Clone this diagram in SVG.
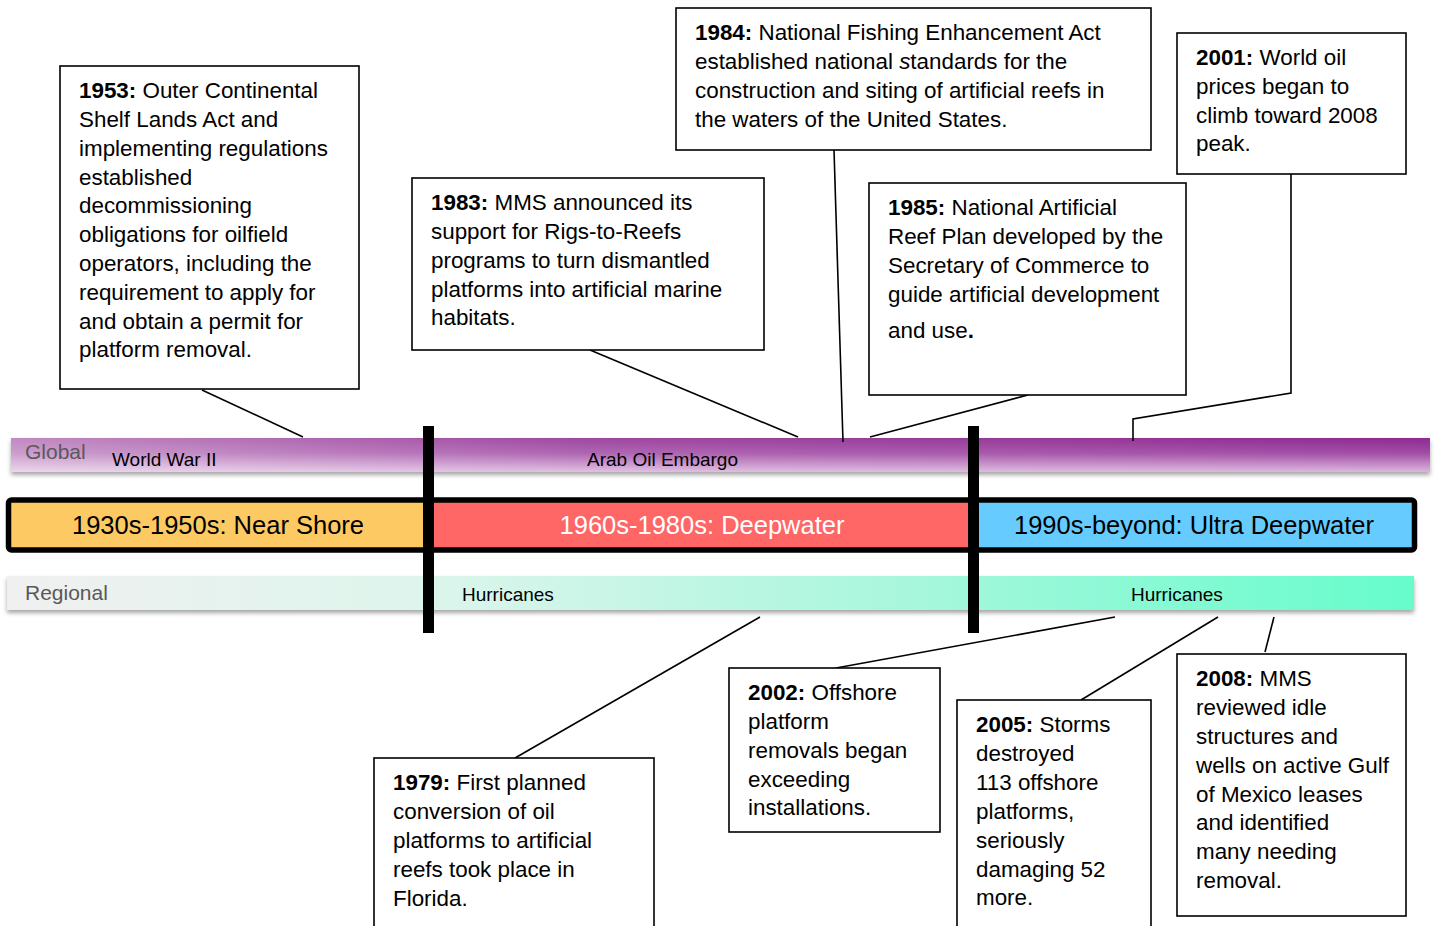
<svg xmlns="http://www.w3.org/2000/svg" width="1436" height="926" viewBox="0 0 1436 926">
<defs>
<style>
.box{fill:#fff;stroke:#000;stroke-width:1.6}
.t{font-family:"Liberation Sans",Arial,sans-serif;font-size:22.4px;fill:#000}
.b{font-weight:bold}
.band{font-family:"Liberation Sans",Arial,sans-serif;font-size:19px;fill:#000}
.side{font-family:"Liberation Sans",Arial,sans-serif;font-size:21px;fill:#595959}
.era{font-family:"Liberation Sans",Arial,sans-serif;font-size:25.5px;text-anchor:middle}
.conn line,.conn polyline{stroke:#000;stroke-width:1.6;fill:none}
</style>
<linearGradient id="gV" x1="0" y1="0" x2="0" y2="1">
<stop offset="0" stop-color="#8e2a90"/>
<stop offset="0.45" stop-color="#a24ea6"/>
<stop offset="1" stop-color="#dcb6de"/>
</linearGradient>
<linearGradient id="gH" x1="0" y1="0" x2="1" y2="0">
<stop offset="0" stop-color="#fff" stop-opacity="0.45"/>
<stop offset="0.4" stop-color="#fff" stop-opacity="0.14"/>
<stop offset="1" stop-color="#fff" stop-opacity="0"/>
</linearGradient>
<linearGradient id="gR" x1="0" y1="0" x2="1" y2="0">
<stop offset="0" stop-color="#f0f0f0"/>
<stop offset="0.3" stop-color="#ddf5ec"/>
<stop offset="0.65" stop-color="#a6f7dc"/>
<stop offset="1" stop-color="#66fccb"/>
</linearGradient>
<filter id="sh" x="-5%" y="-30%" width="110%" height="180%">
<feDropShadow dx="0" dy="3" stdDeviation="2" flood-color="#000" flood-opacity="0.35"/>
</filter>
</defs>

<g id="global-band">
<rect x="11" y="438" width="1419" height="34" fill="url(#gV)" filter="url(#sh)"/>
<rect x="11" y="438" width="1419" height="34" fill="url(#gH)"/>
<text class="side" x="25" y="459">Global</text>
<text class="band" x="112" y="466">World War II</text>
<text class="band" x="587" y="466">Arab Oil Embargo</text>
</g>

<g id="regional-band">
<rect x="7" y="576" width="1407" height="34" fill="url(#gR)" filter="url(#sh)"/>
<text class="side" x="25" y="600">Regional</text>
<text class="band" x="462" y="601">Hurricanes</text>
<text class="band" x="1131" y="601">Hurricanes</text>
</g>

<g id="era-bar">
<rect x="9" y="500" width="420" height="50" fill="#fdc962"/>
<rect x="429" y="500" width="544" height="50" fill="#ff6666"/>
<rect x="973" y="500" width="441" height="50" fill="#66ccff"/>
<rect x="8.5" y="500" width="1406" height="50" rx="3" fill="none" stroke="#000" stroke-width="5.5"/>
<text class="era" x="218" y="534" fill="#000">1930s-1950s: Near Shore</text>
<text class="era" x="702" y="534" fill="#fff">1960s-1980s: Deepwater</text>
<text class="era" x="1194" y="534" fill="#000">1990s-beyond: Ultra Deepwater</text>
</g>

<g id="dividers">
<rect x="423" y="426" width="11" height="207" fill="#000"/>
<rect x="968" y="426" width="11" height="207" fill="#000"/>
</g>

<g class="conn" id="connectors">
<line x1="202" y1="390" x2="303" y2="437"/>
<line x1="590" y1="350" x2="798" y2="437"/>
<line x1="834" y1="150" x2="843" y2="442"/>
<line x1="1028" y1="395" x2="870" y2="437"/>
<polyline points="1291,174 1291,393 1133,419 1133,441"/>
<line x1="515" y1="758" x2="760" y2="617"/>
<line x1="836" y1="668" x2="1115" y2="617"/>
<line x1="1081" y1="700" x2="1218" y2="617"/>
<line x1="1265" y1="652" x2="1274" y2="617"/>
</g>

<g id="n1953">
<rect class="box" x="60" y="66" width="299" height="323"/>
<text class="t" x="79" y="98"><tspan class="b">1953:</tspan> Outer Continental</text>
<text class="t" x="79" y="127">Shelf Lands Act and</text>
<text class="t" x="79" y="156">implementing regulations</text>
<text class="t" x="79" y="185">established</text>
<text class="t" x="79" y="213">decommissioning</text>
<text class="t" x="79" y="242">obligations for oilfield</text>
<text class="t" x="79" y="271">operators, including the</text>
<text class="t" x="79" y="300">requirement to apply for</text>
<text class="t" x="79" y="329">and obtain a permit for</text>
<text class="t" x="79" y="357">platform removal.</text>
</g>

<g id="n1983">
<rect class="box" x="412" y="178" width="352" height="172"/>
<text class="t" x="431" y="210"><tspan class="b">1983:</tspan> MMS announced its</text>
<text class="t" x="431" y="239">support for Rigs-to-Reefs</text>
<text class="t" x="431" y="268">programs to turn dismantled</text>
<text class="t" x="431" y="297">platforms into artificial marine</text>
<text class="t" x="431" y="325">habitats.</text>
</g>

<g id="n1984">
<rect class="box" x="676" y="8" width="475" height="142"/>
<text class="t" x="695" y="40"><tspan class="b">1984:</tspan> National Fishing Enhancement Act</text>
<text class="t" x="695" y="69">established national <tspan font-style="italic">s</tspan>tandards for the</text>
<text class="t" x="695" y="98">construction and siting of artificial reefs in</text>
<text class="t" x="695" y="127">the waters of the United States.</text>
</g>

<g id="n1985">
<rect class="box" x="869" y="183" width="317" height="212"/>
<text class="t" x="888" y="215"><tspan class="b">1985:</tspan> National Artificial</text>
<text class="t" x="888" y="244">Reef Plan developed by the</text>
<text class="t" x="888" y="273">Secretary of Commerce to</text>
<text class="t" x="888" y="302">guide artificial development</text>
<text class="t" x="888" y="338">and use<tspan class="b">.</tspan></text>
</g>

<g id="n2001">
<rect class="box" x="1177" y="33" width="229" height="141"/>
<text class="t" x="1196" y="65"><tspan class="b">2001:</tspan> World oil</text>
<text class="t" x="1196" y="94">prices began to</text>
<text class="t" x="1196" y="123">climb toward 2008</text>
<text class="t" x="1196" y="151">peak.</text>
</g>

<g id="n1979">
<rect class="box" x="374" y="758" width="280" height="180"/>
<text class="t" x="393" y="790"><tspan class="b">1979:</tspan> First planned</text>
<text class="t" x="393" y="819">conversion of oil</text>
<text class="t" x="393" y="848">platforms to artificial</text>
<text class="t" x="393" y="877">reefs took place in</text>
<text class="t" x="393" y="906">Florida.</text>
</g>

<g id="n2002">
<rect class="box" x="729" y="668" width="211" height="164"/>
<text class="t" x="748" y="700"><tspan class="b">2002:</tspan> Offshore</text>
<text class="t" x="748" y="729">platform</text>
<text class="t" x="748" y="758">removals began</text>
<text class="t" x="748" y="787">exceeding</text>
<text class="t" x="748" y="815">installations.</text>
</g>

<g id="n2005">
<rect class="box" x="957" y="700" width="194" height="240"/>
<text class="t" x="976" y="732"><tspan class="b">2005:</tspan> Storms</text>
<text class="t" x="976" y="761">destroyed</text>
<text class="t" x="976" y="790">113 offshore</text>
<text class="t" x="976" y="819">platforms,</text>
<text class="t" x="976" y="848">seriously</text>
<text class="t" x="976" y="877">damaging 52</text>
<text class="t" x="976" y="905">more.</text>
</g>

<g id="n2008">
<rect class="box" x="1177" y="654" width="229" height="262"/>
<text class="t" x="1196" y="686"><tspan class="b">2008:</tspan> MMS</text>
<text class="t" x="1196" y="715">reviewed idle</text>
<text class="t" x="1196" y="744">structures and</text>
<text class="t" x="1196" y="773">wells on active Gulf</text>
<text class="t" x="1196" y="802">of Mexico leases</text>
<text class="t" x="1196" y="830">and identified</text>
<text class="t" x="1196" y="859">many needing</text>
<text class="t" x="1196" y="888">removal.</text>
</g>
</svg>
